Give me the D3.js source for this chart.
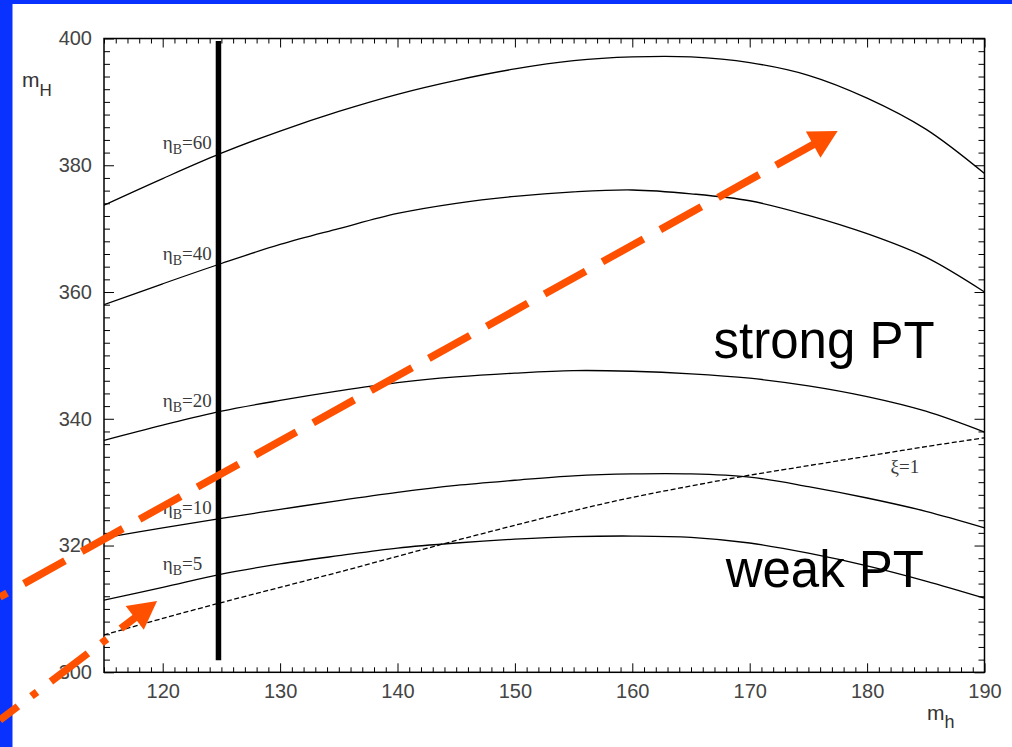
<!DOCTYPE html>
<html>
<head>
<meta charset="utf-8">
<script src="https://cdn.jsdelivr.net/npm/d3@7"></script>
<style>
  html, body { margin: 0; padding: 0; background: #ffffff; }
  svg { display: block; }
</style>
</head>
<body>
<svg id="chart" width="1012" height="747"></svg>
<script>
// Light Higgs mass grid (GeV) shared by every contour
const mhGrid = [115, 120, 125, 130, 135, 140, 145, 150, 155, 160, 165, 170, 175, 180, 185, 190];

// Heavy Higgs mass m_H on each contour of constant eta_B
const eta60 = [373.7, 377.9, 381.9, 385.4, 388.5, 391.2, 393.4, 395.2, 396.5, 397.1, 397.1, 396.2, 394.2, 390.6, 385.7, 378.7];
const eta40 = [358.0, 361.3, 364.5, 367.5, 370.0, 372.4, 374.0, 375.1, 375.8, 376.1, 375.5, 374.4, 372.1, 369.2, 365.5, 360.0];
const eta20 = [336.6, 339.0, 341.2, 342.9, 344.4, 345.7, 346.6, 347.2, 347.6, 347.5, 347.1, 346.4, 345.2, 343.5, 341.2, 337.9];
const eta10 = [321.2, 322.8, 324.3, 325.7, 327.1, 328.4, 329.5, 330.3, 331.0, 331.3, 331.3, 330.8, 329.3, 327.5, 325.4, 322.8];
const eta5  = [311.4, 313.4, 315.5, 317.1, 318.4, 319.6, 320.4, 321.0, 321.4, 321.5, 321.3, 320.4, 318.8, 316.8, 314.4, 311.7];
// xi = 1 boundary (dashed)
const xi1   = [305.9, 308.5, 311.0, 313.4, 315.8, 318.3, 320.8, 323.2, 325.5, 327.6, 329.4, 331.1, 332.6, 334.1, 335.6, 337.0];

const etaValues = [60, 40, 20, 10, 5];
const etaSeries = [eta60, eta40, eta20, eta10, eta5];

// Axis ranges and tick labels
const xDomain = [115, 190];
const yDomain = [300, 400];
const xTickLabels = [120, 130, 140, 150, 160, 170, 180, 190];
const yTickLabels = [300, 320, 340, 360, 380, 400];

// Reference light Higgs mass (thick vertical bar)
const mhRef = 124.75;
const mhRefSpan = [301.9, 399.6];

// Direction arrows, [m_h, m_H] at start and tip
const strongArrow = [[106.13, 311.88], [177.49, 385.41]];
const weakArrow   = [[106.13, 292.47], [119.52, 311.25]];

// Region captions, [m_h, m_H] of the text baseline start
const strongText = ["strong PT", 166.92, 349.6];
const weakText   = ["weak PT", 167.95, 313.46];
const xiLabel    = ["ξ=1", 182.0, 331.4];

const svg = d3.select("#chart");
const W = 1012, H = 747;
const plot = { left: 104, top: 38.5, right: 984.5, bottom: 672.3 };

const x = d3.scaleLinear().domain(xDomain).range([plot.left, plot.right]);
const y = d3.scaleLinear().domain(yDomain).range([plot.bottom, plot.top]);

// Slide background with blue edge strips
svg.append("rect").attr("width", W).attr("height", H).attr("fill", "#ffffff");
svg.append("rect").attr("x", 0).attr("y", 0).attr("width", 12.5).attr("height", H).attr("fill", "#0a32ff");
svg.append("rect").attr("x", 0).attr("y", 0).attr("width", W).attr("height", 4).attr("fill", "#0a32ff");

const axisFont = "'Liberation Sans', Arial, sans-serif";
const serifFont = "'Liberation Serif', 'Times New Roman', serif";

// Tick sets
const xMinor = d3.range(xDomain[0], xDomain[1] + 0.001, 1).filter(v => !xTickLabels.includes(v));
const yMinor = d3.range(yDomain[0], yDomain[1] + 0.001, 2).filter(v => !yTickLabels.includes(v));

function styleAxis(g) {
  g.select(".domain").remove();
  g.selectAll(".tick line").attr("stroke", "#000").attr("stroke-width", 1);
  g.selectAll(".tick text").attr("fill", "#444").attr("font-family", axisFont).attr("font-size", 20);
}

// Bottom axis with labels, ticks pointing into the frame
svg.append("g").attr("transform", `translate(0,${plot.bottom})`)
  .call(d3.axisBottom(x).tickValues(xTickLabels).tickSize(-9).tickPadding(12).tickFormat(d3.format("d")))
  .call(styleAxis);
svg.append("g").attr("transform", `translate(0,${plot.bottom})`)
  .call(d3.axisBottom(x).tickValues(xMinor).tickSize(-5).tickFormat(""))
  .call(styleAxis);
// Top mirror
svg.append("g").attr("transform", `translate(0,${plot.top})`)
  .call(d3.axisTop(x).tickValues(xTickLabels).tickSize(-9).tickFormat(""))
  .call(styleAxis);
svg.append("g").attr("transform", `translate(0,${plot.top})`)
  .call(d3.axisTop(x).tickValues(xMinor).tickSize(-5).tickFormat(""))
  .call(styleAxis);

// Left axis with labels
svg.append("g").attr("transform", `translate(${plot.left},0)`)
  .call(d3.axisLeft(y).tickValues(yTickLabels).tickSize(-10).tickPadding(12).tickFormat(d3.format("d")))
  .call(styleAxis);
svg.append("g").attr("transform", `translate(${plot.left},0)`)
  .call(d3.axisLeft(y).tickValues(yMinor).tickSize(-6).tickFormat(""))
  .call(styleAxis);
// Right mirror
svg.append("g").attr("transform", `translate(${plot.right},0)`)
  .call(d3.axisRight(y).tickValues(yTickLabels).tickSize(-10).tickFormat(""))
  .call(styleAxis);
svg.append("g").attr("transform", `translate(${plot.right},0)`)
  .call(d3.axisRight(y).tickValues(yMinor).tickSize(-6).tickFormat(""))
  .call(styleAxis);

// Frame
svg.append("rect")
  .attr("x", plot.left).attr("y", plot.top)
  .attr("width", plot.right - plot.left).attr("height", plot.bottom - plot.top)
  .attr("fill", "none").attr("stroke", "#000").attr("stroke-width", 1.5);

// Axis titles
const titleH = svg.append("text").attr("x", 22).attr("y", 87)
  .attr("font-family", axisFont).attr("fill", "#333").attr("font-size", 21);
titleH.append("tspan").text("m");
titleH.append("tspan").attr("font-size", 17).attr("dy", 9).text("H");

const titleh = svg.append("text").attr("x", 927).attr("y", 720)
  .attr("font-family", axisFont).attr("fill", "#333").attr("font-size", 21);
titleh.append("tspan").text("m");
titleh.append("tspan").attr("font-size", 18).attr("dy", 8).text("h");

// Contours
const line = d3.line()
  .x((d, i) => x(mhGrid[i]))
  .y(d => y(d))
  .curve(d3.curveCatmullRom.alpha(0.5));

svg.append("clipPath").attr("id", "plotClip")
  .append("rect").attr("x", plot.left).attr("y", plot.top)
  .attr("width", plot.right - plot.left).attr("height", plot.bottom - plot.top);

const curves = svg.append("g").attr("clip-path", "url(#plotClip)");
etaSeries.forEach(series => {
  curves.append("path").attr("d", line(series))
    .attr("fill", "none").attr("stroke", "#000").attr("stroke-width", 1.3);
});
curves.append("path").attr("d", line(xi1))
  .attr("fill", "none").attr("stroke", "#000").attr("stroke-width", 1.3)
  .attr("stroke-dasharray", "5,2.5");

// Contour labels, left-aligned at m_h = 120 just above each curve
etaSeries.forEach((series, k) => {
  const vAtRef = d3.scaleLinear().domain(mhGrid).range(series)(mhRef);
  const t = svg.append("text")
    .attr("x", x(120)).attr("y", y(vAtRef) - 5)
    .attr("font-family", serifFont).attr("font-size", 19).attr("fill", "#3a3a3a");
  t.append("tspan").text("η");
  t.append("tspan").attr("font-size", 14).attr("dy", 5).text("B");
  t.append("tspan").attr("dy", -5).text("=" + etaValues[k]);
});
svg.append("text").attr("x", x(xiLabel[1])).attr("y", y(xiLabel[2]))
  .attr("font-family", serifFont).attr("font-size", 19).attr("fill", "#3a3a3a")
  .text(xiLabel[0]);

// Reference m_h bar
svg.append("line")
  .attr("x1", x(mhRef)).attr("x2", x(mhRef))
  .attr("y1", y(mhRefSpan[0])).attr("y2", y(mhRefSpan[1]))
  .attr("stroke", "#000").attr("stroke-width", 5.5);

// Region captions
[strongText, weakText].forEach(([label, mh, mH]) => {
  svg.append("text").attr("x", x(mh)).attr("y", y(mH))
    .attr("font-family", axisFont).attr("font-size", 51).attr("fill", "#000")
    .text(label);
});

// Arrows
const orange = "#ff5000";
function drawArrow(pts, dash, offset) {
  const [x0, y0] = [x(pts[0][0]), y(pts[0][1])];
  const [x1, y1] = [x(pts[1][0]), y(pts[1][1])];
  const len = Math.hypot(x1 - x0, y1 - y0);
  const ux = (x1 - x0) / len, uy = (y1 - y0) / len;
  const headLen = 28, headHalf = 15;
  const bx = x1 - ux * headLen, by = y1 - uy * headLen;
  svg.append("line")
    .attr("x1", x0).attr("y1", y0).attr("x2", bx + ux * 2).attr("y2", by + uy * 2)
    .attr("stroke", orange).attr("stroke-width", 7.5)
    .attr("stroke-dasharray", dash).attr("stroke-dashoffset", offset);
  svg.append("path")
    .attr("d", `M${x1},${y1}L${bx - uy * headHalf},${by + ux * headHalf}L${bx + uy * headHalf},${by - ux * headHalf}Z`)
    .attr("fill", orange);
}
drawArrow(strongArrow, "47,19.2", 38.7);
drawArrow(weakArrow, "46.4,17,7,17.4", 23.8);
</script>
</body>
</html>
